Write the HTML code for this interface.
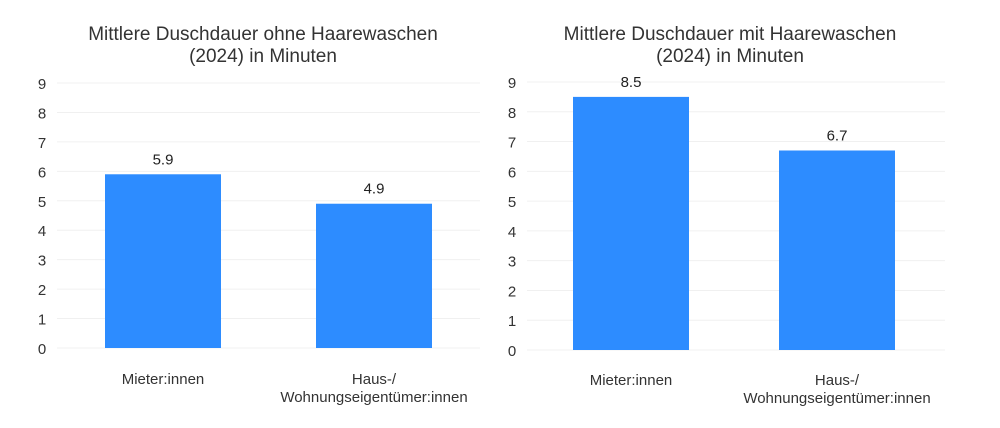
<!DOCTYPE html>
<html><head><meta charset="utf-8"><style>
body{margin:0;background:#fff;width:1000px;height:423px;overflow:hidden;font-family:"Liberation Sans",sans-serif}
</style></head><body>
<svg id="c" width="1000" height="423" font-family="Liberation Sans, sans-serif"></svg>
<script>
const categories=["Mieter:innen","Haus-/|Wohnungseigentümer:innen"];
const valuesLeft=[5.9,4.9];
const valuesRight=[8.5,6.7];
const ticks=[0,1,2,3,4,5,6,7,8,9];
const titleLeft=["Mittlere Duschdauer ohne Haarewaschen","(2024) in Minuten"];
const titleRight=["Mittlere Duschdauer mit Haarewaschen","(2024) in Minuten"];
const svg=document.getElementById('c');
const NS='http://www.w3.org/2000/svg';
function mk(t,a,txt){const e=document.createElementNS(NS,t);for(const k in a)e.setAttribute(k,a[k]);if(txt!==undefined)e.textContent=txt;svg.appendChild(e);return e;}
function chart(cfg,vals,title,id){
  const y=v=>cfg.y0-(cfg.y0-cfg.y9)*v/9;
  title.forEach((t,i)=>{const e=mk('text',{x:cfg.tx,y:40+i*22,'text-anchor':'middle','font-size':19,fill:'#333'},t);
  
  });
  ticks.forEach(t=>{const g=mk('line',{x1:cfg.gx1,x2:cfg.gx2,y1:y(t),y2:y(t),stroke:'#f0f0f0','stroke-width':1});
  
  
  const l=mk('text',{x:cfg.lx,y:y(t)+6,'text-anchor':'middle','font-size':15,fill:'#333'},t);
  
  });
  vals.forEach((v,i)=>{const cx=cfg.cx[i];
  const b=mk('rect',{x:cx-58,y:y(v),width:116,height:cfg.y0-y(v),fill:'#2d8cff'});
  
  
  const vl=mk('text',{x:cx,y:y(v)-10,'text-anchor':'middle','font-size':15,fill:'#222'},v.toFixed(1));
  
  
  categories[i].split('|').forEach((p,j)=>{const c=mk('text',{x:cx,y:cfg.catY+j*18,'text-anchor':'middle','font-size':15,fill:'#333'},p);
  
  });});
}
chart({y0:348,y9:83,gx1:57,gx2:480,lx:42,cx:[163,374],tx:263,catY:384},valuesLeft,titleLeft,'left');
chart({y0:350,y9:82,gx1:527,gx2:945,lx:512,cx:[631,837],tx:730,catY:385},valuesRight,titleRight,'right');
</script>
</body></html>
